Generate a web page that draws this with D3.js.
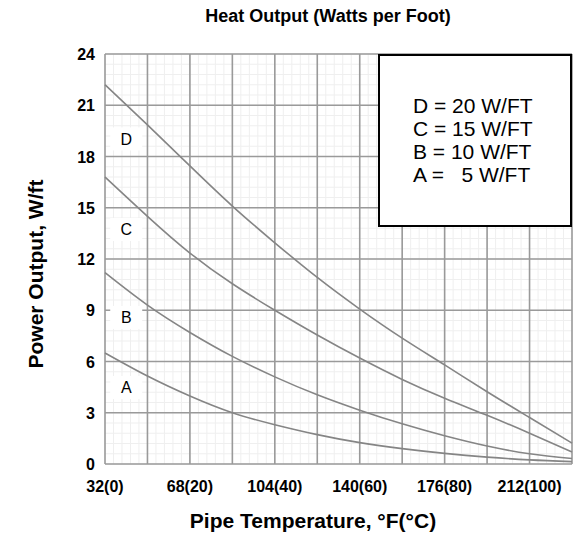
<!DOCTYPE html>
<html>
<head>
<meta charset="utf-8">
<script src="https://cdn.jsdelivr.net/npm/d3@7"></script>
<style>
  body { margin: 0; background: #fff; }
  text { font-family: Arial, "Liberation Sans", sans-serif; }
</style>
</head>
<body>
<svg id="chart"></svg>
<script>
// pipe temperature (°F) at each major grid line
const temps = [32, 50, 68, 86, 104, 122, 140, 158, 176, 194, 212, 230];
// power output readings (W/ft) for each cable
const seriesD = [22.2, 19.85, 17.45, 15.1, 12.95, 10.92, 9.07, 7.37, 5.8, 4.23, 2.72, 1.22];
const seriesC = [16.8, 14.5, 12.35, 10.55, 9.0, 7.55, 6.2, 4.95, 3.85, 2.85, 1.8, 0.7];
const seriesB = [11.2, 9.3, 7.7, 6.3, 5.1, 4.05, 3.15, 2.35, 1.65, 1.05, 0.6, 0.32];
const seriesA = [6.5, 5.15, 3.98, 3.0, 2.3, 1.72, 1.25, 0.9, 0.62, 0.4, 0.24, 0.14];
const seriesNames = ["D", "C", "B", "A"];
// where the letter boxes sit (°F, W/ft)
const labelPos = [[41, 19.0], [41, 13.7], [41, 8.55], [41, 4.45]];
const xTickValues = [32, 68, 104, 140, 176, 212];
const xTickLabels = ["32(0)", "68(20)", "104(40)", "140(60)", "176(80)", "212(100)"];
const yTickValues = [0, 3, 6, 9, 12, 15, 18, 21, 24];
const legendLines = ["D = 20 W/FT", "C = 15 W/FT", "B = 10 W/FT", "A =   5 W/FT"];

const width = 588, height = 541;
const plotL = 105, plotR = 572, plotT = 54, plotB = 464;

const svg = d3.select("#chart")
  .attr("width", width)
  .attr("height", height);

const x = d3.scaleLinear().domain([32, 230]).range([plotL, plotR]);
const y = d3.scaleLinear().domain([0, 24]).range([plotB, plotT]);

// minor grid (5 per major cell), very faint
const minorX = d3.range(32, 230.01, 3.6);
const minorY = d3.range(0, 24.01, 0.6);
const grid = svg.append("g");
grid.selectAll(".mx").data(minorX).enter().append("line")
  .attr("x1", d => x(d)).attr("x2", d => x(d))
  .attr("y1", plotT).attr("y2", plotB)
  .attr("stroke", "#efefef").attr("stroke-width", 1);
grid.selectAll(".my").data(minorY).enter().append("line")
  .attr("x1", plotL).attr("x2", plotR)
  .attr("y1", d => y(d)).attr("y2", d => y(d))
  .attr("stroke", "#efefef").attr("stroke-width", 1);

// major grid
grid.selectAll(".gx").data(temps).enter().append("line")
  .attr("x1", d => x(d)).attr("x2", d => x(d))
  .attr("y1", plotT).attr("y2", plotB)
  .attr("stroke", "#9a9a9a").attr("stroke-width", 1.6);
grid.selectAll(".gy").data(yTickValues).enter().append("line")
  .attr("x1", plotL).attr("x2", plotR)
  .attr("y1", d => y(d)).attr("y2", d => y(d))
  .attr("stroke", "#9a9a9a").attr("stroke-width", 1.6);

// curves
const line = d3.line()
  .x((d, i) => x(temps[i]))
  .y(d => y(d))
  .curve(d3.curveNatural);
svg.selectAll(".curve")
  .data([seriesD, seriesC, seriesB, seriesA])
  .enter().append("path")
  .attr("d", line)
  .attr("fill", "none")
  .attr("stroke", "#858585")
  .attr("stroke-width", 1.6);

// letter boxes
const tags = svg.selectAll(".tag").data(seriesNames).enter().append("g")
  .attr("transform", (d, i) => "translate(" + x(labelPos[i][0]) + "," + y(labelPos[i][1]) + ")");
tags.append("rect")
  .attr("x", -16).attr("y", -12).attr("width", 32).attr("height", 23)
  .attr("fill", "#fff");
tags.append("text")
  .attr("text-anchor", "middle")
  .attr("y", 5.5)
  .style("font-size", "16px")
  .text(d => d);

// y tick labels
svg.selectAll(".ytick").data(yTickValues).enter().append("text")
  .attr("x", 95).attr("y", d => y(d) + 6)
  .attr("text-anchor", "end")
  .style("font-size", "16px").style("font-weight", "bold")
  .text(d => d);

// x tick labels
svg.selectAll(".xtick").data(xTickValues).enter().append("text")
  .attr("x", d => x(d)).attr("y", 492)
  .attr("text-anchor", "middle")
  .style("font-size", "16px").style("font-weight", "bold")
  .text((d, i) => xTickLabels[i]);

// titles
svg.append("text")
  .attr("x", 328).attr("y", 22)
  .attr("text-anchor", "middle")
  .style("font-size", "18px").style("font-weight", "bold")
  .text("Heat Output (Watts per Foot)");
svg.append("text")
  .attr("x", 313).attr("y", 528)
  .attr("text-anchor", "middle")
  .style("font-size", "21px").style("font-weight", "bold")
  .text("Pipe Temperature, °F(°C)");
svg.append("text")
  .attr("transform", "translate(43,274) rotate(-90)")
  .attr("text-anchor", "middle")
  .style("font-size", "21px").style("font-weight", "bold")
  .text("Power Output, W/ft");

// legend box
const legend = svg.append("g");
legend.append("rect")
  .attr("x", 379).attr("y", 55).attr("width", 192).attr("height", 171)
  .attr("fill", "#fff").attr("stroke", "#000").attr("stroke-width", 2);
legend.selectAll("text").data(legendLines).enter().append("text")
  .attr("x", 413).attr("y", (d, i) => 113 + i * 23)
  .attr("xml:space", "preserve")
  .style("white-space", "pre")
  .style("font-size", "21px")
  .text(d => d);
</script>
</body>
</html>
